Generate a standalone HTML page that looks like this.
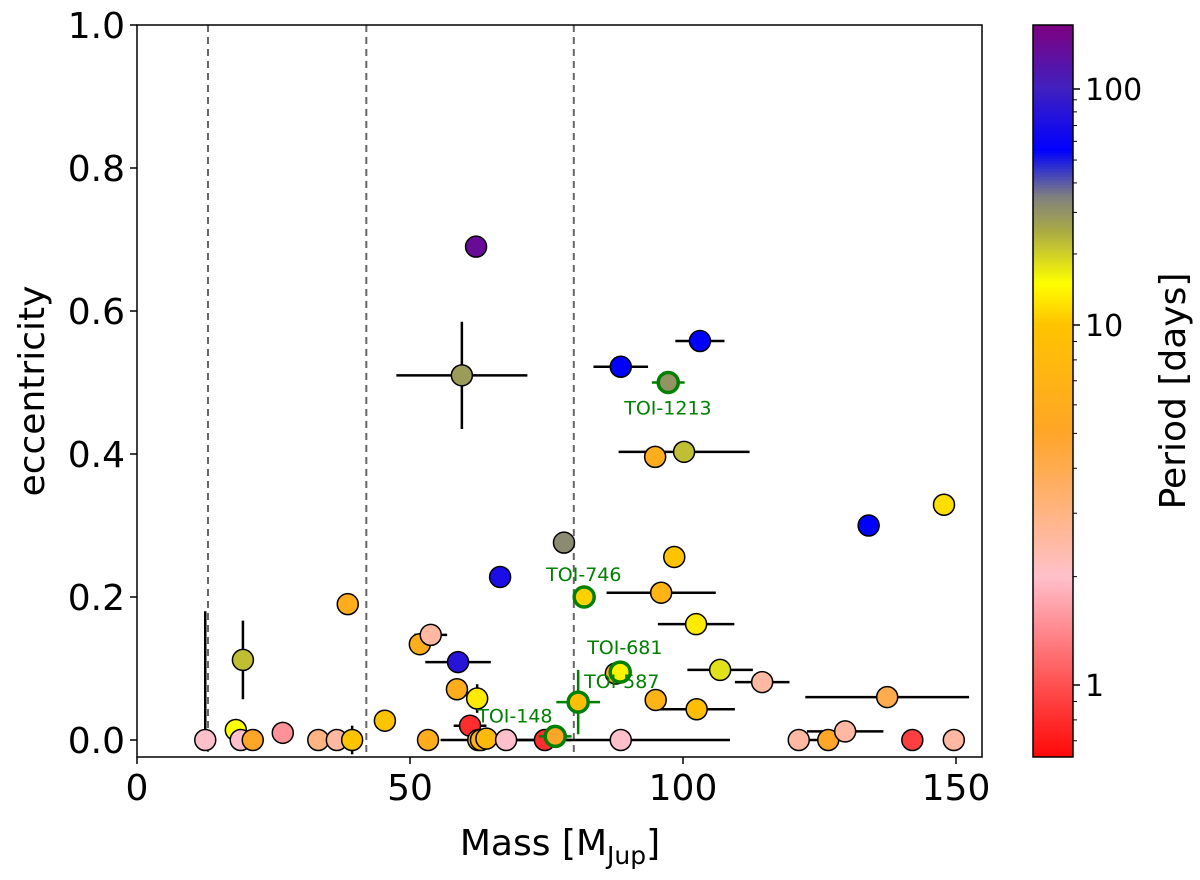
<!DOCTYPE html>
<html><head><meta charset="utf-8"><style>
body{margin:0;background:#fff;}
svg text{font-family:"DejaVu Sans","Liberation Sans",sans-serif;}
</style></head><body>
<svg id="c" width="1200" height="875"></svg>
<script>
const masses=[12.5,19.4,18.1,19,21.2,26.7,33.2,36.6,39.4,38.6,45.4,53.3,51.8,53.8,58.8,58.6,62.3,61,62.5,63,64,67.6,74.7,62.1,59.5,66.5,78.2,88.6,103.1,94.9,100.2,98.4,96,102.4,106.8,114.5,87.7,95,102.5,137.4,134,147.8,121.2,126.6,129.7,142,149.6,88.6];
const eccs=[0,0.112,0.014,0,0,0.01,0,0,0,0.19,0.027,0,0.134,0.147,0.109,0.071,0.058,0.02,0,0,0.002,0,0,0.69,0.51,0.228,0.276,0.522,0.558,0.396,0.403,0.256,0.206,0.162,0.098,0.081,0.093,0.056,0.043,0.06,0.3,0.329,0,0,0.012,0,0,0];
const periods=[2,22,15,2,5,1.5,3,2.5,10,6,10,6,6,2.5,80,6,13,0.8,5,7,8,2,0.8,150,28,70,32,55,55,6,22,10,7,13,18,2.5,6,7,9,4,55,12,2.5,5,2.5,0.9,2.5,2];
const xerrs=[0,0,0,0,0,0,1,0,0,0,1,0,0,3,6,0,0,3,2,0,0,12,0,1.5,12,0,1.5,5,4.5,0,12,0,10,7,6,5,2,0,7,15,1.5,0,1,4,7,0,0,20];
const yerrs=[0,0.055,0,0,0,0,0.005,0,0.02,0,0,0.005,0,0.012,0,0,0.02,0.01,0,0,0,0,0,0,0.075,0,0,0,0,0,0,0,0,0,0,0.01,0.005,0,0,0.01,0,0,0.008,0,0.01,0,0,0];
const yerrTop=[0.18,0,0,0,0,0,0,0,0,0,0,0,0,0,0,0,0,0,0,0,0,0,0,0,0,0,0,0,0,0,0,0,0,0,0,0,0,0,0,0,0,0,0,0,0,0,0,0];
const toiNames=["TOI-148","TOI-587","TOI-681","TOI-746","TOI-1213"];
const toiMass=[76.6,80.8,88.5,81.9,97.3];
const toiEcc=[0.005,0.053,0.095,0.2,0.5];
const toiPer=[5,9,14,11,30];
const toiXerr=[3,4,2,2,3];
const toiYerr=[0,0.045,0,0,0];
const xTicks=[0,50,100,150];
const yTicks=[0,0.2,0.4,0.6,0.8,1.0];
const cbTicks=[1,10,100];
const vlines=[13,42,80];

const NS="http://www.w3.org/2000/svg",svg=document.getElementById('c');
const L=137,R=982,T=25,B=757;
const X=m=>L+m*(956-137)/150;
const Y=e=>740-e*715;
function cbY(p){const l=Math.log10(p);return l<=1?685-360*l:325-236*(l-1);}
function cbP(y){return y>=325?Math.pow(10,(685-y)/360):Math.pow(10,1+(325-y)/236);}
const stops=[[0.6,[255,0,0]],[1,[255,80,80]],[2,[255,192,203]],[3,[255,180,130]],[5,[255,165,40]],[10,[255,195,0]],[15,[255,255,0]],[25,[170,170,70]],[35,[128,128,128]],[55,[0,0,255]],[100,[64,32,192]],[190,[128,0,128]]];
function col(p){p=Math.max(0.6,Math.min(190,p));for(let i=0;i<stops.length-1;i++){const a=stops[i],b=stops[i+1];if(p<=b[0]){const t=(Math.log(p)-Math.log(a[0]))/(Math.log(b[0])-Math.log(a[0]));return 'rgb('+a[1].map((v,k)=>Math.round(v+(b[1][k]-v)*t)).join(',')+')';}}return 'rgb(128,0,128)';}
function el(t,a,p){const e=document.createElementNS(NS,t);for(const k in a)e.setAttribute(k,a[k]);(p||svg).appendChild(e);return e;}
function txt(x,y,s,a,p){const e=el('text',Object.assign({x:x,y:y},a),p);e.textContent=s;return e;}

const clipD=el('defs',{});const cp=el('clipPath',{id:'pc'},clipD);el('rect',{x:L,y:T,width:R-L,height:B-T},cp);
const plot=el('g',{'clip-path':'url(#pc)'});


vlines.forEach(v=>{const l=el('line',{x1:X(v),x2:X(v),y1:T,y2:B,stroke:'#666','stroke-width':2,'stroke-dasharray':'7,5'},plot);

});
masses.forEach((m,i)=>{
 if(xerrs[i])el('line',{x1:X(m-xerrs[i]),x2:X(m+xerrs[i]),y1:Y(eccs[i]),y2:Y(eccs[i]),stroke:'#000','stroke-width':2.5},plot);
 if(yerrs[i]||yerrTop[i])el('line',{x1:X(m),x2:X(m),y1:Y(eccs[i]-yerrs[i]),y2:Y(eccs[i]+Math.max(yerrs[i],yerrTop[i])),stroke:'#000','stroke-width':2.5},plot);
});
masses.forEach((m,i)=>{const c=el('circle',{cx:X(m),cy:Y(eccs[i]),r:10.5,fill:col(periods[i]),stroke:'#000','stroke-width':1.5},plot);

});
toiMass.forEach((m,i)=>{
 el('line',{x1:X(m-toiXerr[i]),x2:X(m+toiXerr[i]),y1:Y(toiEcc[i]),y2:Y(toiEcc[i]),stroke:'green','stroke-width':2.5},plot);
 if(toiYerr[i])el('line',{x1:X(m),x2:X(m),y1:Y(toiEcc[i]-toiYerr[i]),y2:Y(toiEcc[i]+toiYerr[i]),stroke:'green','stroke-width':2.5},plot);
 const c=el('circle',{cx:X(m),cy:Y(toiEcc[i]),r:10,fill:col(toiPer[i]),stroke:'green','stroke-width':3.5},plot);
 
 
});
const lblOff=[[-78,-14],[6,-14],[-33,-18],[-38,-16],[-44,32]];
toiNames.forEach((n,i)=>{const t=txt(X(toiMass[i])+lblOff[i][0],Y(toiEcc[i])+lblOff[i][1],n,{fill:'green','font-size':19});

});
el('rect',{x:L,y:T,width:R-L,height:B-T,fill:'none',stroke:'#000','stroke-width':1.5});
xTicks.forEach(v=>{el('line',{x1:X(v),x2:X(v),y1:B,y2:B+7,stroke:'#000','stroke-width':1.5});
const t=txt(X(v),B+43,v,{'font-size':36,'text-anchor':'middle'});

});
yTicks.forEach(v=>{el('line',{x1:L-7,x2:L,y1:Y(v),y2:Y(v),stroke:'#000','stroke-width':1.5});
const t=txt(L-12,Y(v)+13,v.toFixed(1),{'font-size':36,'text-anchor':'end'});

});
const xt=el('text',{x:560,y:855,'font-size':36,'text-anchor':'middle'});xt.innerHTML='Mass [M<tspan font-size="25" dy="9">Jup</tspan><tspan dy="-9">]</tspan>';


const yt=txt(0,0,'eccentricity',{'font-size':36,'text-anchor':'middle',transform:'translate(44,391) rotate(-90)'});


const cb=el('g',{});


for(let y=25;y<757;y+=2)el('rect',{x:1033,y:y,width:40,height:2.5,fill:col(cbP(y+1))},cb);
el('rect',{x:1033,y:25,width:40,height:732,fill:'none',stroke:'#000','stroke-width':1.5},cb);
cbTicks.forEach(v=>{el('line',{x1:1073,x2:1080,y1:cbY(v),y2:cbY(v),stroke:'#000','stroke-width':1.5},cb);
const t=txt(1085,cbY(v)+11,v,{'font-size':30},cb);

});
[0.7,0.8,0.9,2,3,4,5,6,7,8,9,20,30,40,50,60,70,80,90].forEach(v=>el('line',{x1:1073,x2:1077,y1:cbY(v),y2:cbY(v),stroke:'#000','stroke-width':1},cb));
const ct=txt(0,0,'Period [days]',{'font-size':36,'text-anchor':'middle',transform:'translate(1185,391) rotate(-90)'});


</script>
</body></html>
